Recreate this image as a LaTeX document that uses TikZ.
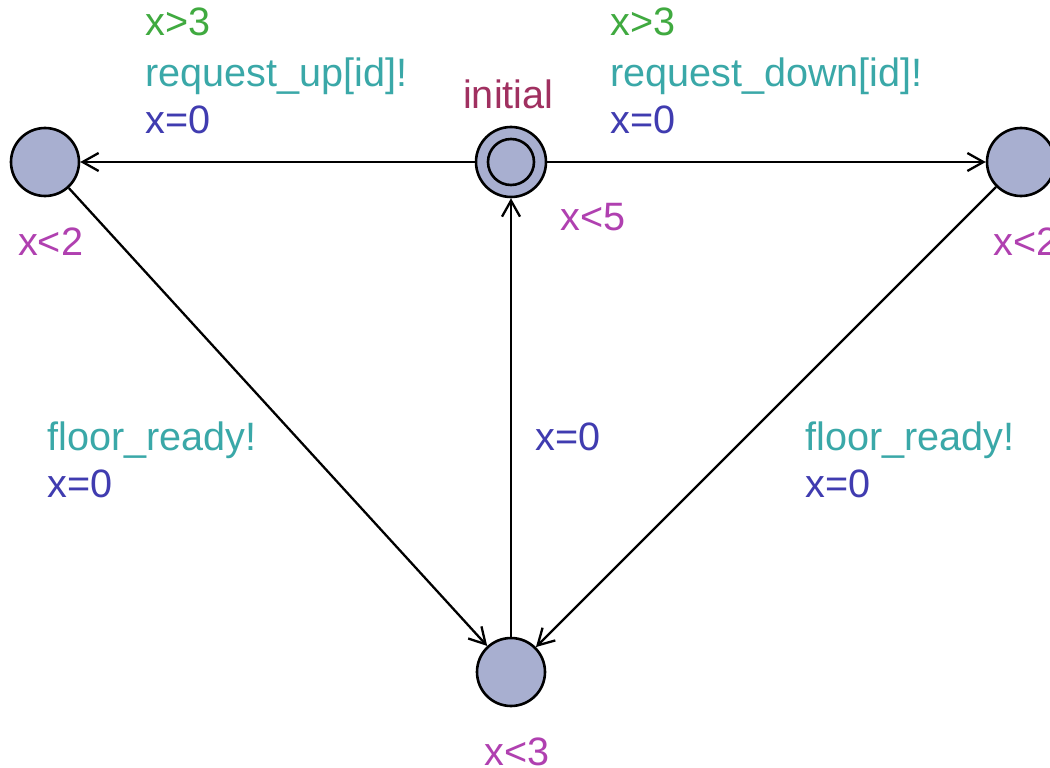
\documentclass[tikz,border=0pt]{standalone}
\usepackage{fontspec}
\setmainfont{Liberation Sans}
\usetikzlibrary{arrows.meta}
\definecolor{locfill}{RGB}{168,175,208}
\definecolor{guardc}{RGB}{64,170,64}
\definecolor{syncc}{RGB}{58,168,168}
\definecolor{updc}{RGB}{64,60,176}
\definecolor{invc}{RGB}{176,64,176}
\definecolor{namec}{RGB}{160,48,96}
\begin{document}
\begin{tikzpicture}[x=1pt,y=-1pt,
  loc/.style={circle,draw=black,line width=2.6pt,fill=locfill,minimum size=68pt,inner sep=0pt},
  edge/.style={line width=2.3pt,-{Straight Barb[length=16pt,width=18pt]}},
  lbl/.style={anchor=base west,inner sep=0pt,font=\fontsize{39.6}{46}\selectfont},
  guard/.style={lbl,text=guardc},
  sync/.style={lbl,text=syncc},
  upd/.style={lbl,text=updc},
  inv/.style={lbl,text=invc},
  lname/.style={lbl,text=namec}]
\useasboundingbox (0,0) rectangle (1050,768);
\clip (0,0) rectangle (1050,768);
\fill[white] (0,0) rectangle (1050,768);

% locations
\node[loc,minimum size=70pt] (init) at (511,162) {};
\draw[line width=2.6pt] (init.center) circle (23pt);
\node[loc] (up) at (45,162) {};
\node[loc] (down) at (1021,162) {};
\node[loc] (floor) at (511,672) {};

% transitions
\draw[edge] (init) -- (up);
\draw[edge] (init) -- (down);
\draw[edge] (floor) -- (init);
\draw[edge] (up) -- (floor);
\draw[edge] (down) -- (floor);

% location names and invariants
\node[lname] (ninit) at (463,108) {initial};
\node[inv] (iinit) at (560,230) {x<5};
\node[inv] (iup) at (18,255) {x<2};
\node[inv] (idown) at (993,255) {x<2};
\node[inv] (ifloor) at (484,765) {x<3};

% labels of the upper transitions
\node[guard] (g1) at (145,36) {x>3};
\node[sync] (s1) at (145,86) {request\_up[id]!};
\node[upd] (u1) at (145,133) {x=0};
\node[guard] (g2) at (610,36) {x>3};
\node[sync] (s2) at (610,86) {request\_down[id]!};
\node[upd] (u2) at (610,133) {x=0};

% labels of the lower transitions
\node[sync] (s3) at (47,450) {floor\_ready!};
\node[upd] (u3) at (47,497) {x=0};
\node[upd] (u4) at (535,450) {x=0};
\node[sync] (s5) at (805,450) {floor\_ready!};
\node[upd] (u5) at (805,497) {x=0};
\end{tikzpicture}
\end{document}
